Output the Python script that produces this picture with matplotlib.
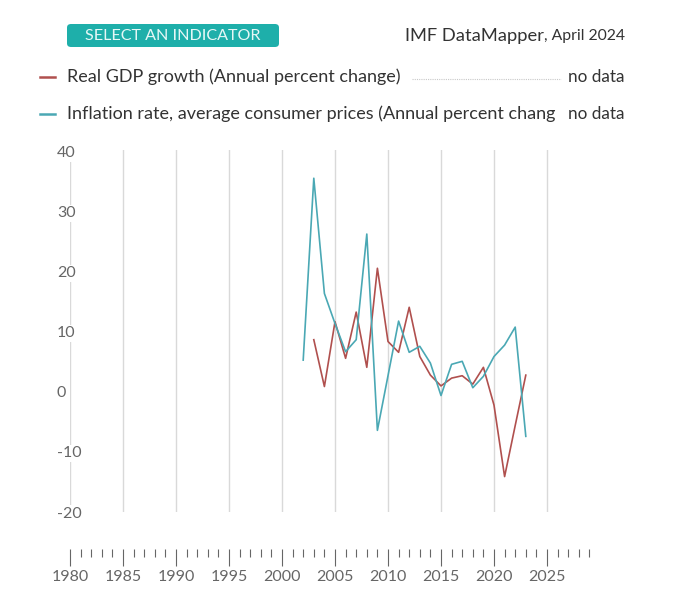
import matplotlib
matplotlib.use("Agg")
import matplotlib.pyplot as plt
from matplotlib.patches import FancyBboxPatch
from matplotlib.ticker import FixedLocator

plt.rcParams['font.family'] = ['Lato', 'DejaVu Sans']
plt.rcParams['axes.unicode_minus'] = False

# data
gdp_years = list(range(2003, 2024))
gdp = [8.7, 0.9, 11.7, 5.6, 13.3, 4.1, 20.6, 8.4, 6.6, 14.1, 5.9,
       2.8, 1.0, 2.3, 2.7, 1.3, 4.1, -2.2, -14.1, -5.6, 2.8]
infl_years = list(range(2002, 2024))
infl = [5.3, 35.6, 16.4, 11.4, 6.7, 8.7, 26.3, -6.4, 2.7, 11.8, 6.6,
        7.6, 4.8, -0.6, 4.6, 5.1, 0.7, 2.6, 5.9, 7.8, 10.8, -7.4]

gdp_label = "Real GDP growth (Annual percent change)"
infl_label = "Inflation rate, average consumer prices (Annual percent chang"
y_ticks = [-20, -10, 0, 10, 20, 30, 40]
x_major = list(range(1980, 2030, 5))
x_minor = [y for y in range(1980, 2030) if y % 5 != 0]

red = "#b0504e"
teal = "#4aa8b4"
grid_col = "#d9d9d9"
text_col = "#333333"

W, H = 681, 599
fig = plt.figure(figsize=(W / 100, H / 100), dpi=100)

def fx(px):
    return px / W

def fy(py):
    return 1 - py / H

# main plot
ax = fig.add_axes([fx(70), fy(512), fx(530), (512 - 150) / H])
ax.set_xlim(1980, 2030)
ax.set_ylim(-20, 40.3)
for s in ax.spines.values():
    s.set_visible(False)
ax.set_xticks([])
for yr in x_major:
    ax.axvline(yr, color=grid_col, lw=1, zorder=0)
ax.plot(gdp_years, gdp, color=red, lw=1.2, zorder=3)
ax.plot(infl_years, infl, color=teal, lw=1.2, zorder=3)
ax.set_yticks(y_ticks)
ax.tick_params(axis='y', length=0, labelsize=11.5, labelcolor="#666666")
for lab in ax.get_yticklabels():
    lab.set_horizontalalignment('left')
    lab.set_bbox(dict(facecolor='white', edgecolor='none', pad=1))
ax.yaxis.set_tick_params(pad=9.4)

# time axis below
tax = fig.add_axes([fx(70), fy(549), fx(530), 0.001])
tax.set_xlim(1980, 2030)
tax.set_yticks([])
for s in tax.spines.values():
    s.set_visible(False)
tax.patch.set_visible(False)
tax.xaxis.set_major_locator(FixedLocator(x_major))
tax.xaxis.set_minor_locator(FixedLocator(x_minor))
tax.tick_params(axis='x', which='major', length=12, width=0.8, color="#666666",
                labelsize=11.5, labelcolor="#666666", pad=3)
tax.tick_params(axis='x', which='minor', length=6, width=0.8, color="#666666")

# header
btn = FancyBboxPatch((fx(67), fy(47)), fx(212), (47 - 24) / H,
                     boxstyle="round,pad=0,rounding_size=0.006",
                     transform=fig.transFigure, facecolor="#1eafaa",
                     edgecolor='none')
fig.patches.append(btn)
fig.text(fx(173), fy(35.5), "SELECT AN INDICATOR", color="#e6f7f6",
         fontsize=11.6, ha='center', va='center')
date_txt = fig.text(fx(625), fy(36), ", April 2024", color=text_col,
                    fontsize=11.3, ha='right', va='center')
renderer = fig.canvas.get_renderer()
date_left = date_txt.get_window_extent(renderer).x0
fig.text(date_left / W, fy(36), "IMF DataMapper", color=text_col,
         fontsize=13.2, ha='right', va='center')

# legend rows
for row_y, col, label in [(77, red, gdp_label), (114, teal, infl_label)]:
    fig.add_artist(plt.Line2D([fx(40), fx(55)], [fy(row_y), fy(row_y)],
                              color=col, lw=1.8))
    fig.text(fx(67), fy(row_y), label, color=text_col, fontsize=13,
             ha='left', va='center')
    fig.text(fx(625), fy(row_y), "no data", color=text_col, fontsize=12.3,
             ha='right', va='center')
fig.add_artist(plt.Line2D([fx(412), fx(561)], [fy(79), fy(79)],
                          color="#c8c8c8", lw=0.8, ls=(0, (1, 1))))

fig.savefig("out.png", dpi=100, facecolor='white')
